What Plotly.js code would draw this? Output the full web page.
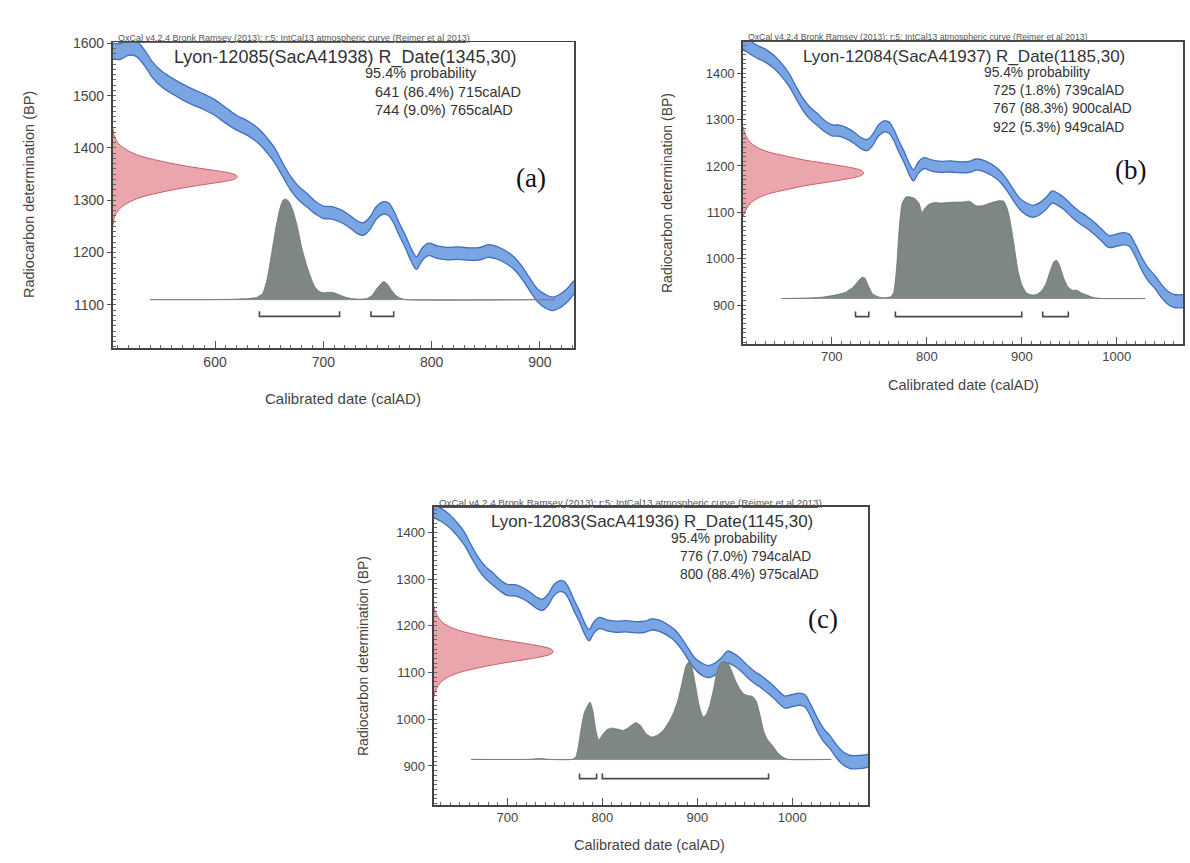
<!DOCTYPE html>
<html><head><meta charset="utf-8">
<script src="https://cdn.plot.ly/plotly-3.0.1.min.js"></script>
<style>html,body{margin:0;padding:0;background:#fff;}#chart{width:1190px;height:863px;}</style>
</head><body><div id="chart"></div>
<script>
// ---- IntCal13 calibration curve ----
const calYear = [505,512,520,527,535,542,550,560,570,580,590,600,610,620,630,640,648,655,662,670,677,685,692,700,708,716,724,731,737,743,749,755,760,765,770,776,781,786,791,797,805,815,825,835,845,852,860,868,876,884,891,898,905,912,919,926,932,938,945,952,960,968,976,984,992,1000,1007,1013,1019,1026,1033,1040,1047,1053,1060,1067,1074,1082];
const calBP = [1586,1584,1592,1590,1572,1550,1533,1519,1507,1497,1488,1477,1462,1448,1438,1423,1405,1386,1360,1332,1314,1300,1287,1277,1276,1270,1260,1249,1245,1256,1276,1285,1283,1268,1245,1220,1196,1180,1196,1206,1201,1198,1199,1197,1198,1203,1200,1192,1180,1160,1138,1118,1107,1102,1108,1120,1133,1128,1118,1104,1090,1079,1066,1051,1037,1040,1043,1040,1020,990,966,950,930,917,909,908,909,912];
const calSigma = [15,15,15,15,15,15,15,15,15,15,15,15,15,14,14,14,14,14,13,13,13,13,12,12,12,12,12,12,12,12,12,12,12,12,12,12,12,12,12,12,12,12,12,12,12,12,12,12,12,12,12,12,13,13,13,13,13,13,13,13,13,13,13,13,13,13,13,13,13,14,14,14,14,14,14,14,14,14];

// ---- Panel texts ----
const panelLabels = ["(a)", "(b)", "(c)"];
const sampleTitles = ["Lyon-12085(SacA41938) R_Date(1345,30)", "Lyon-12084(SacA41937) R_Date(1185,30)", "Lyon-12083(SacA41936) R_Date(1145,30)"];
const probHeader = "95.4% probability";
const rangesTextA = ["641 (86.4%) 715calAD", "744 (9.0%) 765calAD"];
const rangesTextB = ["725 (1.8%) 739calAD", "767 (88.3%) 900calAD", "922 (5.3%) 949calAD"];
const rangesTextC = ["776 (7.0%) 794calAD", "800 (88.4%) 975calAD"];
const oxcalNote = "OxCal v4.2.4 Bronk Ramsey (2013); r:5; IntCal13 atmospheric curve (Reimer et al 2013)";
const xTitle = "Calibrated date (calAD)";
const yTitle = "Radiocarbon determination (BP)";

// ---- Calibrated ranges (brackets) ----
const rangesA = [[641,715],[744,765]];
const rangesB = [[725,739],[767,900],[922,949]];
const rangesC = [[776,794],[800,975]];

// ---- Radiocarbon date distributions (red) ----
const redBPa = [1440,1420,1405,1395,1385,1376,1369,1362,1357,1353,1349,1345,1341,1337,1333,1328,1321,1314,1305,1295,1285,1270,1250];
const redWa  = [0,2,7,14,25,42,58,78,94,106,113,115,113,106,94,78,58,42,25,14,7,2,0];
const redBPb = [1285,1265,1250,1240,1230,1221,1213,1206,1200,1195,1190,1185,1180,1175,1170,1164,1157,1149,1140,1130,1120,1105,1090];
const redWb  = [0,3,8,15,27,46,64,86,104,117,125,127,125,117,104,86,64,46,27,15,8,3,0];
const redBPc = [1245,1225,1210,1200,1190,1181,1173,1166,1160,1155,1150,1145,1140,1135,1130,1124,1117,1109,1100,1090,1080,1065,1045];
const redWc  = [0,3,8,15,27,45,64,85,103,116,124,126,124,116,103,85,64,45,27,15,8,3,0];

// ---- Calibrated probability distributions (grey) ----
const histBaseA = 1110, histBaseB = 914, histBaseC = 914;
const histYearA = [540,600,620,630,638,644,648,652,656,660,663,666,669,672,676,680,684,688,692,696,700,705,710,715,720,726,733,740,745,749,753,756,759,763,767,771,776,914];
const histHA    = [0,0,1,2,4,12,38,85,135,175,191,192,185,170,140,100,70,45,25,16,13,14,13,9,5,2,1,2,8,20,30,35,30,18,8,3,0,0];
const histYearB = [647,670,690,702,714,722,728,732,735,738,743,750,757,762,765,768,771,774,778,783,788,792,795,798,802,808,815,822,830,838,845,852,858,864,870,876,881,884,887,890,893,896,900,905,910,915,920,925,930,934,937,940,944,948,953,958,963,968,974,980,986,1030];
const histHB    = [0,1,3,7,13,24,38,46,44,30,10,3,2,4,12,60,150,205,219,219,215,205,185,195,203,207,206,207,208,208,210,200,200,204,208,211,210,198,176,140,100,60,30,12,8,8,15,30,60,80,82,70,45,27,18,18,12,8,3,1,0,0];
const histYearC = [662,720,728,735,745,768,772,775,778,781,784,787,790,793,796,800,805,810,816,822,826,830,835,840,846,852,858,864,870,875,880,884,888,891,894,898,902,906,909,913,917,921,925,929,933,937,941,945,949,953,958,962,966,970,974,979,984,988,992,996,1041];
const histHC    = [0,0,1,2,0,0,5,30,70,100,113,123,105,65,42,52,64,67,65,62,66,72,79,73,55,48,52,62,80,100,130,165,200,209,200,160,115,91,95,115,150,190,207,209,204,185,165,150,140,137,135,125,95,60,42,30,16,8,3,0,0];

// ---- Axis ranges ----
const xRangeA = [505.5, 931.5], yRangeA = [1017, 1602];
const xRangeB = [606.6, 1070], yRangeB = [816, 1468];
const xRangeC = [622.3, 1080], yRangeC = [816.5, 1455];

// ---- styles ----
const W = 1190, H = 863;
const FONT = "Liberation Sans, Arial, sans-serif";
const SERIF = "Liberation Serif, DejaVu Serif, serif";
const blueFill = "#79a5e2", blueEdge = "#3f6dc2";
const redFill = "#eba5ad", redEdge = "#c95d69";
const greyFill = "#7f8782", greyEdge = "#6c736e";
const px = x => x / W, py = y => 1 - y / H;

const panels = [
  {ax: "", xr: xRangeA, yr: yRangeA, redBP: redBPa, redW: redWa, hy: histYearA, hh: histHA, base: histBaseA, ranges: rangesA, brY: 1078, brD: 10,
   dom: {x: [112.7, 574], y: [42.3, 348.3]}, tickSize: 14},
  {ax: "2", xr: xRangeB, yr: yRangeB, redBP: redBPb, redW: redWb, hy: histYearB, hh: histHB, base: histBaseB, ranges: rangesB, brY: 875, brD: 11,
   dom: {x: [743, 1183.3], y: [41.7, 344]}, tickSize: 13},
  {ax: "3", xr: xRangeC, yr: yRangeC, redBP: redBPc, redW: redWc, hy: histYearC, hh: histHC, base: histBaseC, ranges: rangesC, brY: 873, brD: 11,
   dom: {x: [433.5, 868.3], y: [506.7, 805]}, tickSize: 13}
];

const traces = [];
const layout = {
  width: W, height: H, autosize: false,
  margin: {l: 0, r: 0, t: 0, b: 0, pad: 0},
  paper_bgcolor: "#ffffff", plot_bgcolor: "#ffffff",
  showlegend: false,
  font: {family: FONT, color: "#444"},
  annotations: []
};

const lower = calBP.map((v, i) => v - calSigma[i]);
const upper = calBP.map((v, i) => v + calSigma[i]);

panels.forEach(p => {
  const xa = "x" + p.ax, ya = "y" + p.ax;
  traces.push({x: calYear, y: lower, xaxis: xa, yaxis: ya, mode: "lines", type: "scatter",
    line: {color: blueEdge, width: 1.3, shape: "spline", smoothing: 1}, hoverinfo: "skip"});
  traces.push({x: calYear, y: upper, xaxis: xa, yaxis: ya, mode: "lines", type: "scatter", fill: "tonexty", fillcolor: blueFill,
    line: {color: blueEdge, width: 1.3, shape: "spline", smoothing: 1}, hoverinfo: "skip"});
  traces.push({x: p.redW.map(w => p.xr[0] + w), y: p.redBP, xaxis: xa, yaxis: ya, mode: "lines", type: "scatter",
    fill: "toself", fillcolor: redFill, line: {color: redEdge, width: 1, shape: "spline", smoothing: 1}, hoverinfo: "skip"});
  traces.push({x: [p.hy[0], p.hy[p.hy.length - 1]], y: [p.base, p.base], xaxis: xa, yaxis: ya, mode: "lines", type: "scatter",
    line: {color: "#a0a4a2", width: 1}, hoverinfo: "skip"});
  traces.push({x: p.hy, y: p.hh.map(h => p.base + h), xaxis: xa, yaxis: ya, mode: "lines", type: "scatter",
    fill: "toself", fillcolor: greyFill, line: {color: greyEdge, width: 0.8, shape: "spline", smoothing: 0.5}, hoverinfo: "skip"});
  const bx = [], by = [];
  p.ranges.forEach(r => {
    bx.push(r[0], r[0], r[1], r[1], null);
    by.push(p.brY + p.brD, p.brY, p.brY, p.brY + p.brD, null);
  });
  traces.push({x: bx, y: by, xaxis: xa, yaxis: ya, mode: "lines", type: "scatter",
    line: {color: "#4a4a4a", width: 1.6}, hoverinfo: "skip"});

  const common = {showgrid: false, zeroline: false, showline: true, linecolor: "#444", linewidth: 1.8, mirror: true,
    tickcolor: "#555", tickfont: {family: FONT, size: p.tickSize, color: "#444"}, dtick: 100, fixedrange: true};
  layout["xaxis" + p.ax] = Object.assign({}, common, {
    domain: [px(p.dom.x[0]), px(p.dom.x[1])], anchor: ya, range: p.xr, ticks: "inside", ticklen: 7, tick0: 0,
    minor: {ticks: "inside", ticklen: 3, dtick: 10, tick0: 0, tickcolor: "#666", showgrid: false}
  });
  layout["yaxis" + p.ax] = Object.assign({}, common, {
    domain: [py(p.dom.y[1]), py(p.dom.y[0])], anchor: xa, range: p.yr, ticks: "outside", ticklen: 4, tick0: 0,
    minor: {ticks: "inside", ticklen: 3, dtick: 10, tick0: 0, tickcolor: "#666", showgrid: false}
  });
});

function ann(text, x, y, size, opts) {
  layout.annotations.push(Object.assign({
    text: text, x: px(x), y: py(y), xref: "paper", yref: "paper", showarrow: false,
    xanchor: "center", yanchor: "middle", font: {family: FONT, size: size, color: "#333"}
  }, opts || {}));
}

// Panel (a)
ann("<u>" + oxcalNote + "</u>", 115.7, 38.5, 9, {xanchor: "left", font: {family: FONT, size: 9, color: "#555"}});
ann(sampleTitles[0], 345, 57.3, 18);
ann(probHeader, 363, 72.7, 14.5, {xanchor: "left"});
rangesTextA.forEach((t, i) => ann(t, 372.7, [91.7, 110][i], 14.5, {xanchor: "left"}));
ann(panelLabels[0], 530.6, 178, 27, {font: {family: SERIF, size: 27, color: "#111"}});
ann(yTitle, 29, 195, 14.5, {textangle: -90, font: {family: FONT, size: 14.5, color: "#444"}});
ann(xTitle, 343, 398, 15, {font: {family: FONT, size: 15, color: "#444"}});

// Panel (b)
ann("<u>" + oxcalNote + "</u>", 745.5, 37.3, 8.7, {xanchor: "left", font: {family: FONT, size: 8.7, color: "#555"}});
ann(sampleTitles[1], 964, 56.7, 17);
ann(probHeader, 981.7, 72.3, 13.8, {xanchor: "left"});
rangesTextB.forEach((t, i) => ann(t, 991, [90.7, 109, 127.3][i], 13.8, {xanchor: "left"}));
ann(panelLabels[1], 1130, 170, 27, {font: {family: SERIF, size: 27, color: "#111"}});
ann(yTitle, 667, 193, 14, {textangle: -90, font: {family: FONT, size: 14, color: "#444"}});
ann(xTitle, 963, 385, 14.5, {font: {family: FONT, size: 14.5, color: "#444"}});

// Panel (c)
ann("<u>" + oxcalNote + "</u>", 436.9, 502.5, 9.8, {xanchor: "left", font: {family: FONT, size: 9.8, color: "#555"}});
ann(sampleTitles[2], 652, 521.2, 17);
ann(probHeader, 669, 538, 13.8, {xanchor: "left"});
rangesTextC.forEach((t, i) => ann(t, 677.9, [556, 574.6][i], 13.8, {xanchor: "left"}));
ann(panelLabels[2], 822.7, 618.5, 27, {font: {family: SERIF, size: 27, color: "#111"}});
ann(yTitle, 363, 656, 14, {textangle: -90, font: {family: FONT, size: 14, color: "#444"}});
ann(xTitle, 650, 845, 14.5, {font: {family: FONT, size: 14.5, color: "#444"}});

Plotly.newPlot("chart", traces, layout, {staticPlot: true, displayModeBar: false});
</script></body></html>
